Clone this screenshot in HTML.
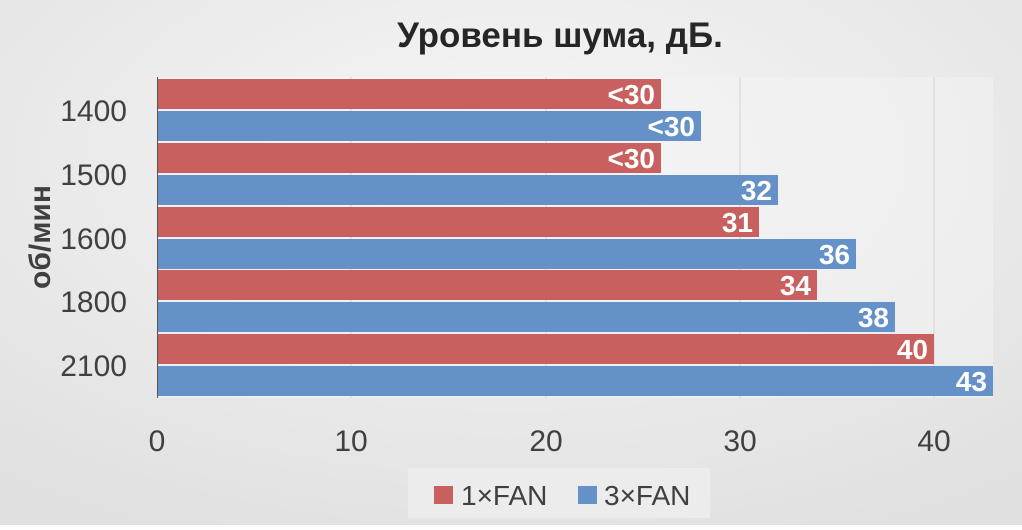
<!DOCTYPE html>
<html><head><meta charset="utf-8"><style>
html,body{margin:0;padding:0;}
body{width:1022px;height:525px;overflow:hidden;font-family:"Liberation Sans",sans-serif;}
</style></head><body>
<svg width="1022" height="525" xmlns="http://www.w3.org/2000/svg" font-family="Liberation Sans, sans-serif">
<defs>
<radialGradient id="bg" cx="0.5" cy="0.3" r="0.8">
<stop offset="0" stop-color="#f6f6f6"/><stop offset="1" stop-color="#e0e0e0"/>
</radialGradient>
</defs>
<rect width="1022" height="525" fill="url(#bg)"/>
<rect x="157" y="77" width="836" height="321" fill="#f3f3f3" opacity="0.5"/>
<g stroke="#d4d4d4" stroke-width="1">
<line x1="351" y1="77" x2="351" y2="398"/><line x1="546" y1="77" x2="546" y2="398"/>
<line x1="740" y1="77" x2="740" y2="398"/><line x1="934" y1="77" x2="934" y2="398"/>
</g>
<text x="560" y="47" font-size="35" font-weight="bold" text-anchor="middle" fill="#262626">Уровень шума, дБ.</text>
<g fill="#C8605F">
<rect x="158" y="79" width="503" height="30"/>
<rect x="158" y="143" width="503" height="30"/>
<rect x="158" y="207" width="601" height="30"/>
<rect x="158" y="270" width="659" height="30"/>
<rect x="158" y="334" width="776" height="30"/>
</g>
<g fill="#6491C8">
<rect x="158" y="111" width="543" height="30"/>
<rect x="158" y="175" width="620" height="30"/>
<rect x="158" y="239" width="698" height="30"/>
<rect x="158" y="302" width="737" height="30"/>
<rect x="158" y="366" width="835" height="30"/>
</g>
<line x1="157.5" y1="77" x2="157.5" y2="398" stroke="#555" stroke-width="1"/>
<g font-size="28" font-weight="bold" fill="#fff" text-anchor="end">
<text x="655" y="104">&lt;30</text>
<text x="695" y="136">&lt;30</text>
<text x="655" y="168">&lt;30</text>
<text x="772" y="200">32</text>
<text x="753" y="232">31</text>
<text x="850" y="264">36</text>
<text x="811" y="295">34</text>
<text x="889" y="327">38</text>
<text x="928" y="359">40</text>
<text x="987" y="391">43</text>
</g>
<g font-size="30" fill="#404040" text-anchor="end">
<text x="127" y="121">1400</text>
<text x="127" y="185">1500</text>
<text x="127" y="249">1600</text>
<text x="127" y="312">1800</text>
<text x="127" y="376">2100</text>
</g>
<text transform="translate(50,237) rotate(-90)" font-size="30" font-weight="bold" fill="#404040" text-anchor="middle">об/мин</text>
<g font-size="30" fill="#404040" text-anchor="middle">
<text x="157" y="451">0</text><text x="351" y="451">10</text><text x="546" y="451">20</text>
<text x="740" y="451">30</text><text x="934" y="451">40</text>
</g>
<rect x="408" y="468" width="302" height="50" fill="#ececec"/>
<rect x="434" y="486" width="19" height="18" fill="#C8605F"/>
<text x="461" y="505" font-size="28" fill="#404040">1×FAN</text>
<rect x="578" y="486" width="19" height="18" fill="#6491C8"/>
<text x="604" y="505" font-size="28" fill="#404040">3×FAN</text>
</svg>
</body></html>
